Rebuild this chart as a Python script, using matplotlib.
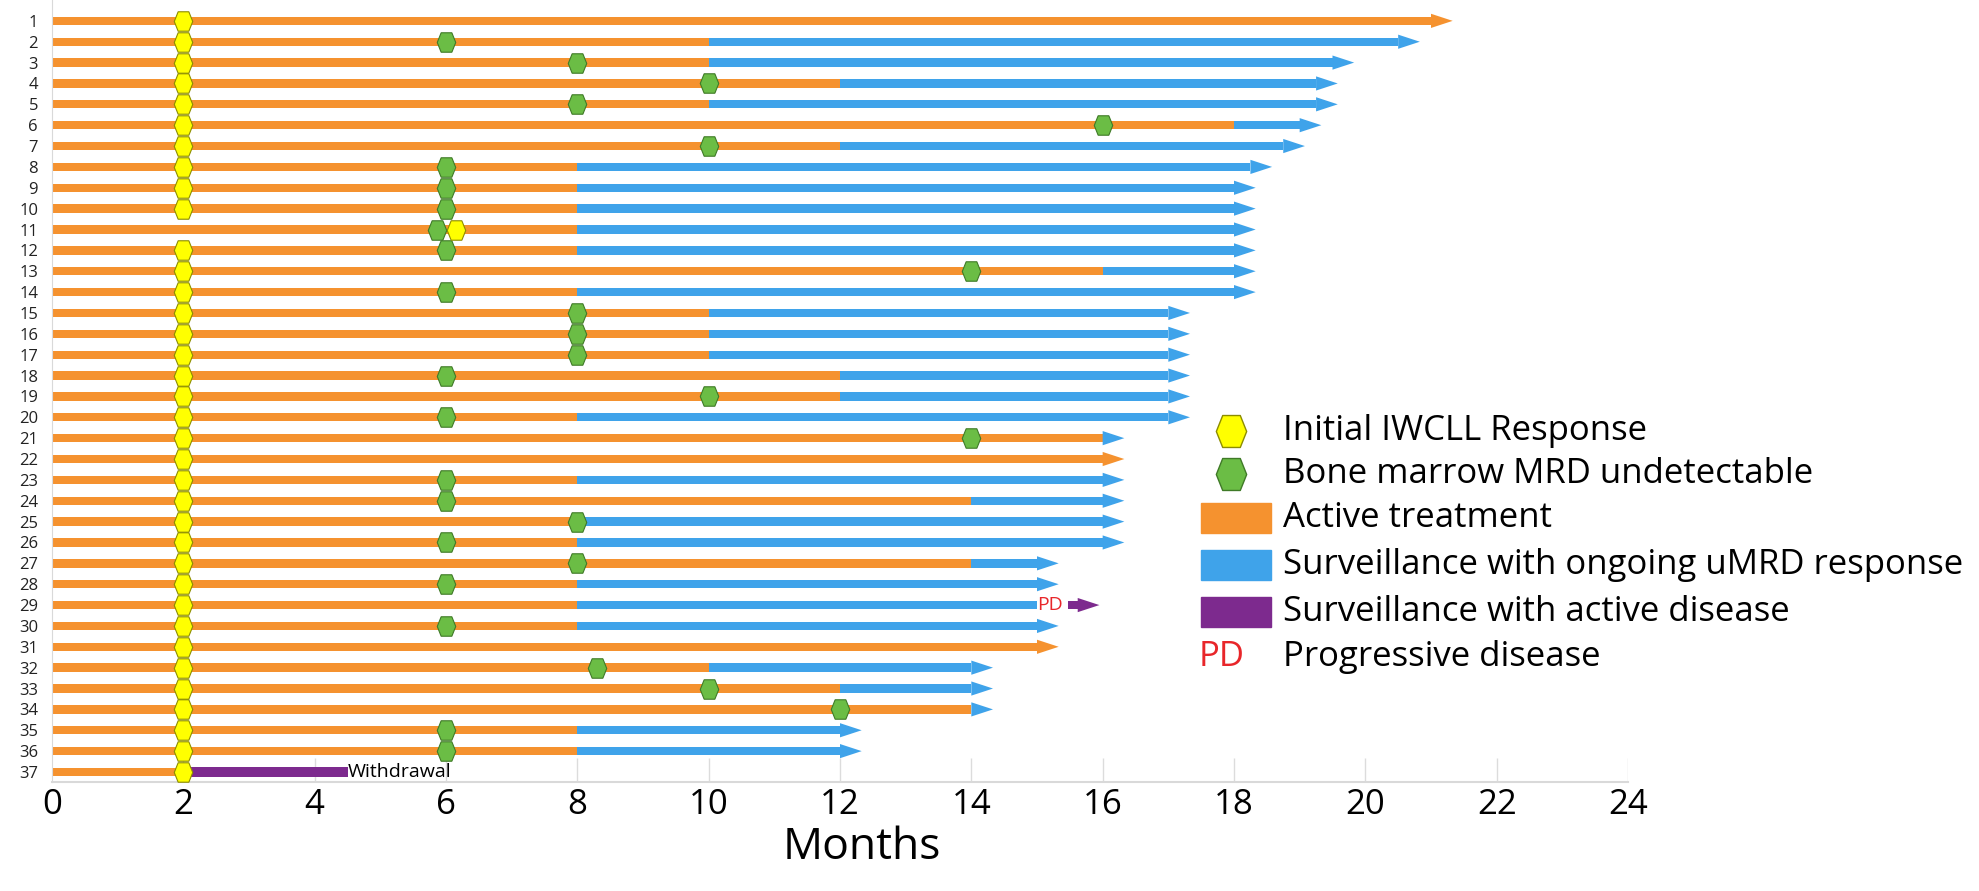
import matplotlib
matplotlib.use("Agg")
import matplotlib.pyplot as plt
from matplotlib.path import Path
from matplotlib.patches import Rectangle

plt.rcParams['font.family'] = ['Open Sans', 'DejaVu Sans']

# Swimmer plot data (months), one entry per patient
patients = list(range(1, 38))
initial_response = [2] * 10 + [6.15] + [2] * 26
marrow_undetectable = [None, 6, 8, 10, 8, 16, 10, 6, 6, 6, 5.87, 6, 14, 6, 8, 8, 8, 6, 10, 6,
                       14, None, 6, 6, 8, 6, 8, 6, None, 6, None, 8.3, 10, 12, 6, 6, None]
treatment_end = [21, 10, 10, 12, 10, 18, 12, 8, 8, 8, 8, 8, 16, 8, 10, 10, 10, 12, 12, 8,
                 16, 16, 8, 14, 8, 8, 14, 8, 8, 8, 15, 10, 12, 14, 8, 8, 2]
followup_end = [21, 20.5, 19.5, 19.25, 19.25, 19, 18.75, 18.25, 18, 18, 18, 18, 18, 18,
                17, 17, 17, 17, 17, 17, 16, 16, 16, 16, 16, 16, 15, 15, 15, 15, 15,
                14, 14, 14, 12, 12, 2]
# which colour the arrow head takes: active / surv / none
arrow_state = ['active'] + ['surv'] * 20 + ['active'] + ['surv'] * 6 + ['none', 'surv', 'active'] \
              + ['surv'] * 5 + ['none']

pd_patient = 29
pd_disease = (15.47, 15.62)       # active disease after progression
withdrawal_patient = 37
withdrawal_disease = (2, 4.5)

ORANGE = '#f5922f'
BLUE = '#3fa3ea'
PURPLE = '#7d2a8e'
GREEN = '#6bbd45'
YELLOW = '#ffff00'
RED = '#e8262a'

bar_h = 0.4
head_len = 0.33
head_half = 0.34

hexagon = Path([(-0.95, 0), (-0.55, 1), (0.55, 1), (0.95, 0), (0.55, -1), (-0.55, -1), (-0.95, 0)],
               closed=True)

fig = plt.figure(figsize=(19.79, 8.91), dpi=100)
ax = fig.add_axes([52 / 1979, 109 / 891, 1576 / 1979, 782 / 891])


def arrow_head(x, y, color):
    ax.fill([x, x + head_len, x], [y - head_half, y, y + head_half], color=color, lw=0, zorder=3)


for i, p in enumerate(patients):
    t_end = treatment_end[i]
    f_end = followup_end[i]
    ax.barh(p, t_end, left=0, height=bar_h, color=ORANGE, zorder=2)
    if f_end > t_end:
        ax.barh(p, f_end - t_end, left=t_end, height=bar_h, color=BLUE, zorder=2)
    if arrow_state[i] == 'active':
        arrow_head(f_end, p, ORANGE)
    elif arrow_state[i] == 'surv':
        arrow_head(f_end, p, BLUE)

# progression on patient 29
ax.text(followup_end[pd_patient - 1], pd_patient, 'PD', color=RED, fontsize=14,
        ha='left', va='center', zorder=4)
ax.barh(pd_patient, pd_disease[1] - pd_disease[0], left=pd_disease[0], height=bar_h,
        color=PURPLE, zorder=2)
arrow_head(pd_disease[1], pd_patient, PURPLE)

# withdrawal on patient 37
ax.barh(withdrawal_patient, withdrawal_disease[1] - withdrawal_disease[0],
        left=withdrawal_disease[0], height=bar_h + 0.05, color=PURPLE, zorder=2)
ax.text(withdrawal_disease[1], withdrawal_patient, 'Withdrawal', fontsize=14,
        ha='left', va='center', zorder=4)

# markers
ax.plot(initial_response, patients, ls='none', marker=hexagon, ms=14,
        mfc=YELLOW, mec='#8c8c00', mew=0.8, zorder=5)
gx = [m for m in marrow_undetectable if m is not None]
gy = [p for p, m in zip(patients, marrow_undetectable) if m is not None]
ax.plot(gx, gy, ls='none', marker=hexagon, ms=14, mfc=GREEN, mec='#3f7a27', mew=0.8, zorder=4)

ax.set_xlim(0, 24)
ax.set_ylim(37.48, 0)
ax.vlines(range(2, 25, 2), 36.35, 37.48, color='#dcdcdc', lw=1, zorder=1)

ax.set_xticks(range(0, 25, 2))
ax.tick_params(axis='x', length=0, labelsize=25, pad=4)
ax.set_yticks(patients)
ax.set_yticklabels([str(p) for p in patients])
ax.tick_params(axis='y', length=0, labelsize=12, pad=10, labelcolor='#222222')
for s in ['top', 'right']:
    ax.spines[s].set_visible(False)
ax.spines['left'].set_color('#d9d9d9')
ax.spines['bottom'].set_color('#d9d9d9')
ax.spines['bottom'].set_linewidth(1.5)

fig.text(862 / 1979, 32 / 891, 'Months', fontsize=32, ha='center', va='baseline')

# legend drawn in pixel space
lax = fig.add_axes([0, 0, 1, 1])
lax.set_xlim(0, 1979)
lax.set_ylim(891, 0)
lax.axis('off')
legend_y = [431, 474, 518, 565, 612, 657]
legend_text = ['Initial IWCLL Response', 'Bone marrow MRD undetectable', 'Active treatment',
               'Surveillance with ongoing uMRD response', 'Surveillance with active disease',
               'Progressive disease']
lax.plot(1231, legend_y[0], marker=hexagon, ms=23, mfc=YELLOW, mec='#8c8c00', mew=1)
lax.plot(1231, legend_y[1], marker=hexagon, ms=23, mfc=GREEN, mec='#3f7a27', mew=1)
for y, c in zip(legend_y[2:5], [ORANGE, BLUE, PURPLE]):
    lax.add_patch(Rectangle((1201, y - 15), 70, 30, color=c))
lax.text(1199, legend_y[5], 'PD', color=RED, fontsize=25, ha='left', va='center')
for y, t in zip(legend_y, legend_text):
    lax.text(1283, y, t, fontsize=25, ha='left', va='center')

fig.savefig('out.png', dpi=100)
